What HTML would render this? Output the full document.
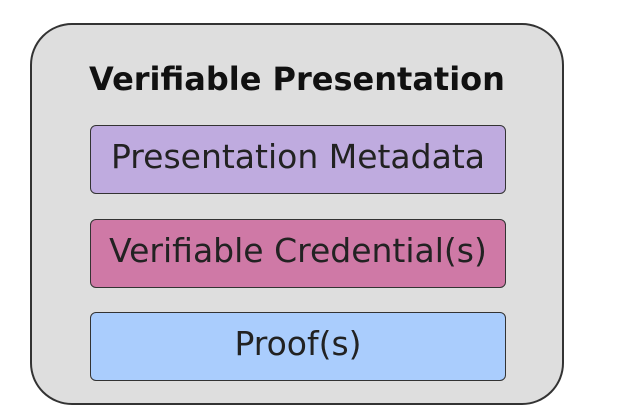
<!DOCTYPE html>
<html><head><style>
body{margin:0;width:620px;height:420px;background:#fff;position:relative;font-family:"DejaVu Sans","Liberation Sans",sans-serif;overflow:hidden}
.outer{position:absolute;left:30px;top:23px;width:534px;height:382px;background:#dedede;border:2px solid #333;border-radius:42px;box-sizing:border-box}
.t{position:absolute;left:30px;width:534px;top:60px;text-align:center;font-weight:bold;font-size:32px;color:#111}
.b{position:absolute;left:90px;width:416px;height:69px;border:1.5px solid #333;border-radius:6px;box-sizing:border-box;text-align:center;line-height:62px;font-size:33px;color:#222;white-space:nowrap}
</style></head><body>
<div class="outer"></div>
<div class="t">Verifiable Presentation</div>
<div class="b" style="top:125px;background:#bfabdf">Presentation Metadata</div>
<div class="b" style="top:219px;background:#cf79a6">Verifiable Credential(s)</div>
<div class="b" style="top:312px;background:#aacdfd">Proof(s)</div>
</body></html>
